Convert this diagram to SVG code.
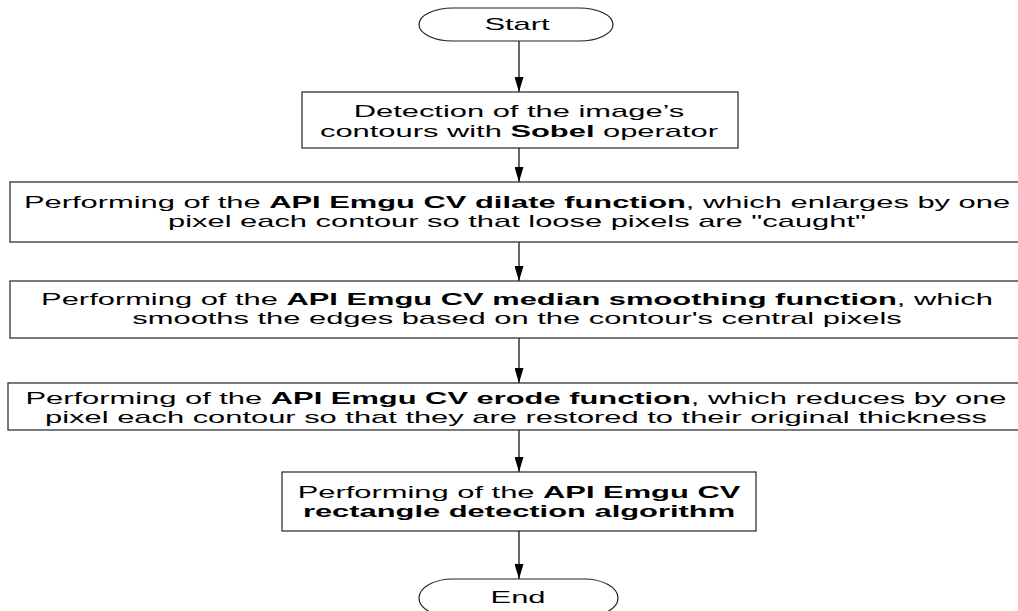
<svg xmlns="http://www.w3.org/2000/svg" width="1018" height="611" viewBox="0 0 1018 611">
<style>
.box{fill:#fff;stroke:#222;stroke-width:1.2}
.t{font-family:"Liberation Sans",Arial,sans-serif;font-size:16px;fill:#000;text-anchor:middle}
.b{font-weight:bold}
.c{stroke:#000;stroke-width:1.2;fill:none}
</style>
<defs>
<marker id="ah" viewBox="0 0 15 9" refX="15" refY="4.5" markerWidth="15" markerHeight="9" markerUnits="userSpaceOnUse" orient="auto">
<path d="M0,0 L15,4.5 L0,9 Z" fill="#000"/>
</marker>
</defs>
<rect width="1018" height="611" fill="#fff"/>
<g id="connectors">
<line class="c" x1="519" y1="41" x2="519" y2="92" marker-end="url(#ah)"/>
<line class="c" x1="519" y1="148" x2="519" y2="182" marker-end="url(#ah)"/>
<line class="c" x1="519" y1="242" x2="519" y2="281" marker-end="url(#ah)"/>
<line class="c" x1="519" y1="338" x2="519" y2="383" marker-end="url(#ah)"/>
<line class="c" x1="519" y1="430" x2="519" y2="472" marker-end="url(#ah)"/>
<line class="c" x1="519" y1="531" x2="519" y2="579" marker-end="url(#ah)"/>
</g>
<g id="start">
<rect class="box" x="419" y="8" width="194" height="33" rx="34" ry="16.5"/>
<text class="t" transform="matrix(1.93 0 0 1 517 30)" x="0" y="0">Start</text>
</g>
<g id="sobel">
<rect class="box" x="302" y="92" width="436" height="56"/>
<text class="t" transform="matrix(1.93 0 0 1 519 0)" x="0" y="117">Detection of the image’s</text>
<text class="t" transform="matrix(1.93 0 0 1 519 0)" x="0" y="137">contours with <tspan class="b">Sobel</tspan> operator</text>
</g>
<g id="dilate">
<rect class="box" x="10" y="182" width="1012" height="60"/>
<text class="t" transform="matrix(1.93 0 0 1 517 0)" x="0" y="208">Performing of the <tspan class="b">API Emgu CV dilate function</tspan>, which enlarges by one</text>
<text class="t" transform="matrix(1.93 0 0 1 517 0)" x="0" y="227">pixel each contour so that loose pixels are "caught"</text>
</g>
<g id="median">
<rect class="box" x="10" y="281" width="1012" height="57"/>
<text class="t" transform="matrix(1.93 0 0 1 517 0)" x="0" y="305.5">Performing of the <tspan class="b">API Emgu CV median smoothing function</tspan>, which</text>
<text class="t" transform="matrix(1.93 0 0 1 517 0)" x="0" y="324.5">smooths the edges based on the contour's central pixels</text>
</g>
<g id="erode">
<rect class="box" x="8" y="383" width="1014" height="47"/>
<text class="t" transform="matrix(1.93 0 0 1 516 0)" x="0" y="404">Performing of the <tspan class="b">API Emgu CV erode function</tspan>, which reduces by one</text>
<text class="t" transform="matrix(1.93 0 0 1 516 0)" x="0" y="423">pixel each contour so that they are restored to their original thickness</text>
</g>
<g id="rectangle">
<rect class="box" x="282" y="472" width="474" height="59"/>
<text class="t" transform="matrix(1.93 0 0 1 519 0)" x="0" y="498">Performing of the <tspan class="b">API Emgu CV</tspan></text>
<text class="t b" transform="matrix(1.93 0 0 1 519 0)" x="0" y="517">rectangle detection algorithm</text>
</g>
<g id="end">
<rect class="box" x="419" y="579" width="199" height="38" rx="34" ry="19"/>
<text class="t" transform="matrix(1.93 0 0 1 518 0)" x="0" y="603">End</text>
</g>
</svg>
